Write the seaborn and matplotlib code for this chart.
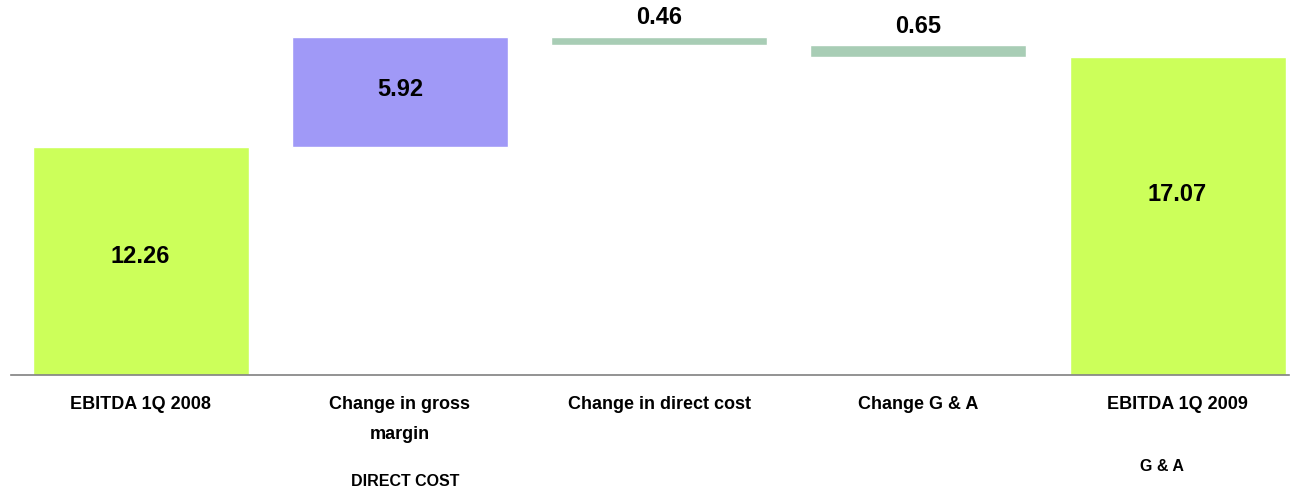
import matplotlib
matplotlib.use("Agg")
import matplotlib.pyplot as plt
import matplotlib.transforms as mtransforms
import seaborn as sns
import pandas as pd
import numpy as np

categories = ["EBITDA 1Q 2008", "Change in gross\nmargin", "Change in direct cost",
              "Change G & A", "EBITDA 1Q 2009"]
values = [12.26, 5.92, -0.46, -0.65, 17.07]
value_labels = ["12.26", "5.92", "0.46", "0.65", "17.07"]
is_total = [True, False, False, False, True]
colors = ["#CCFF5A", "#A099F7", "#A8CDB5", "#A8CDB5", "#CCFF5A"]
notes = [("DIRECT COST", 1.02, -0.283), ("G & A", 3.94, -0.245)]

# waterfall geometry from the values
bottoms, heights = [], []
running = 0.0
for v, tot in zip(values, is_total):
    if tot:
        bottoms.append(0.0)
        heights.append(v)
        running = v
    else:
        new = running + v
        bottoms.append(min(running, new))
        heights.append(abs(v))
        running = new

df = pd.DataFrame({"cat": categories, "height": heights, "bottom": bottoms})

sns.set_style("white")
plt.rcParams["font.family"] = ["Liberation Sans", "DejaVu Sans"]
plt.rcParams["text.color"] = "black"
plt.rcParams["xtick.color"] = "#808080"
plt.rcParams["xtick.labelcolor"] = "black"

fig = plt.figure(figsize=(12.92, 4.93), dpi=100)
ax = fig.add_axes([11 / 1292, 118 / 493, 1278 / 1292, 375 / 493])

for i in range(len(categories)):
    sns.barplot(data=df.iloc[[i]], x="cat", y="height", order=categories,
                color=colors[i], bottom=bottoms[i], width=0.833, saturation=1, ax=ax)

ax.set_xlim(-0.5, 4.43)
ax.set_ylim(0, 20.16)

for i, (lab, b, h, tot) in enumerate(zip(value_labels, bottoms, heights, is_total)):
    if tot:
        y = b + h * (0.52 if i == 0 else 0.57)
        ax.text(i, y, lab, ha="center", va="center", fontsize=17, fontweight="bold", color="black")
    elif h > 2:
        ax.text(i, b + h * 0.52, lab, ha="center", va="center", fontsize=17, fontweight="bold", color="black")
    else:
        ax.annotate(lab, (i, b + h), xytext=(0, 19 * 0.72), textcoords="offset points",
                    ha="center", va="center", fontsize=17, fontweight="bold", color="black")

for s in ["top", "right", "left"]:
    ax.spines[s].set_visible(False)
ax.spines["bottom"].set_color("#808080")
ax.spines["bottom"].set_linewidth(1.2)
ax.set_yticks([])
ax.set_xlabel("")
ax.set_ylabel("")
ax.set_xticks(range(len(categories)))
ax.set_xticklabels(categories, fontsize=13, fontweight="bold", va="top", color="black")
for lbl in ax.get_xticklabels():
    lbl.set_linespacing(2.0)
ax.tick_params(axis="x", which="major", length=0, pad=15)
ax.set_xticks(np.arange(-0.5, 4.0, 1.0), minor=True)
ax.tick_params(axis="x", which="minor", length=4, color="#808080", width=1, direction="out")

trans = mtransforms.blended_transform_factory(ax.transData, ax.transAxes)
for txt, xx, yy in notes:
    ax.text(xx, yy, txt, transform=trans, ha="center", va="center", fontsize=11.5,
            fontweight="bold", clip_on=False, color="black")

fig.savefig("out.png", dpi=100, facecolor="white")
